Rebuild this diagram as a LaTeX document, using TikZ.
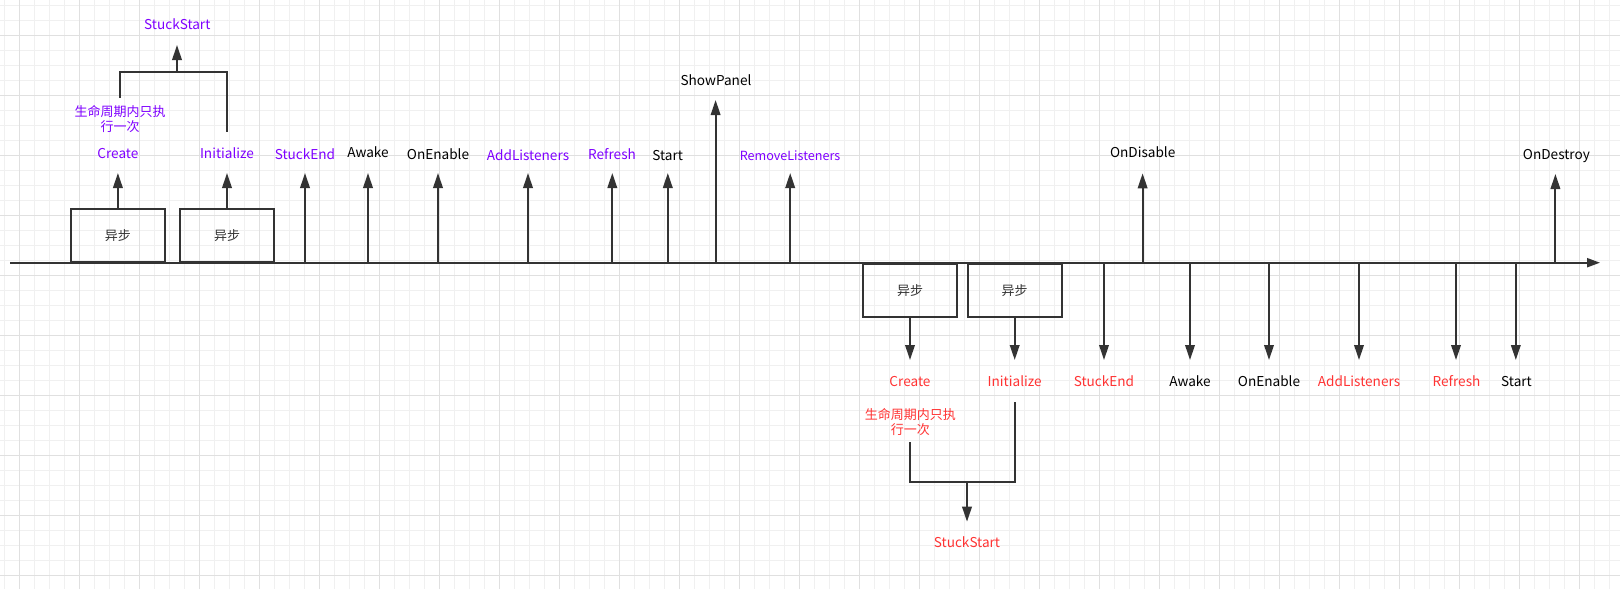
\documentclass[tikz,border=0pt]{standalone}
\usepackage{fontspec}
\setmainfont{Noto Sans CJK SC}
\usetikzlibrary{arrows.meta}
\definecolor{lineC}{HTML}{333333}
\definecolor{purp}{HTML}{7F00FF}
\definecolor{redC}{HTML}{FF3333}
\definecolor{gridminor}{HTML}{F0F0F0}
\definecolor{gridmajor}{HTML}{E0E0E0}
\begin{document}
\begin{tikzpicture}[x=1pt,y=-1pt,
  lbl/.style={font=\fontsize{13.6}{16}\selectfont, inner sep=0pt, anchor=base},
  cjk/.style={font=\fontsize{13}{16}\selectfont, inner sep=0pt, anchor=base},
  pu/.style={text=purp}, rd/.style={text=redC}, bk/.style={text=black},
  conn/.style={draw=lineC, line width=2pt},
  arr/.style={conn, -{Triangle[length=15pt,width=9.5pt]}},
  abox/.style={draw=lineC, line width=2pt, minimum width=94pt, minimum height=53pt, inner sep=0pt, font=\fontsize{13}{16}\selectfont, text=lineC}]
\useasboundingbox (0,0) rectangle (1620,589);
\fill[white] (0,0) rectangle (1620,589);
% grid
\foreach \i in {0,...,107} \draw[gridminor, line width=1pt] ({4.3+15*\i},0) -- ({4.3+15*\i},589);
\foreach \j in {0,...,39} \draw[gridminor, line width=1pt] (0,{5+15*\j}) -- (1620,{5+15*\j});
\foreach \i in {0,...,26} \draw[gridmajor, line width=1pt] ({19.3+60*\i},0) -- ({19.3+60*\i},589);
\foreach \j in {0,...,9} \draw[gridmajor, line width=1pt] (0,{35+60*\j}) -- (1620,{35+60*\j});

% timeline
\coordinate (tl0) at (10,262.7);
\coordinate (tl1) at (1600,262.7);
\draw[conn, -{Triangle[length=13pt,width=9pt]}] (tl0) -- (tl1);

% boxes
\node[abox, anchor=south] (b1) at (117.9,262.7) {异步};
\node[abox, anchor=south] (b2) at (227.0,262.7) {异步};
\node[abox, anchor=north] (b3) at (910.0,262.7) {异步};
\node[abox, anchor=north] (b4) at (1014.7,262.7) {异步};

% top labels
\node[lbl,pu] (lSSt) at (177.3,29.3) {StuckStart};
\node[cjk,pu] (lCJKt1) at (120.2,116.3) {生命周期内只执};
\node[cjk,pu] (lCJKt2) at (120.2,131.8) {行一次};
\node[lbl,pu] (lCrt) at (117.9,158) {Create};
\node[lbl,pu] (lInt) at (227.0,158) {Initialize};
\node[lbl,pu] (lSEt) at (305,159.3) {StuckEnd};
\node[lbl,bk] (lAwt) at (368,157.3) {Awake};
\node[lbl,bk] (lOEt) at (438,159.3) {OnEnable};
\node[lbl,pu] (lALt) at (528,160.7) {AddListeners};
\node[lbl,pu] (lRft) at (612,159.3) {Refresh};
\node[lbl,bk] (lStt) at (667.6,160.7) {Start};
\node[lbl,bk] (lSP) at (716,85) {ShowPanel};
\node[lbl,pu,font=\fontsize{12.6}{16}\selectfont] (lRL) at (790,160) {RemoveListeners};
\node[lbl,bk] (lOD) at (1142.7,157.7) {OnDisable};
\node[lbl,bk] (lODy) at (1556.4,159.3) {OnDestroy};

% bottom labels
\node[lbl,rd] (lCrb) at (910,386.7) {Create};
\node[lbl,rd] (lInb) at (1014.7,386.7) {Initialize};
\node[lbl,rd] (lSEb) at (1104,386.7) {StuckEnd};
\node[lbl,bk] (lAwb) at (1190,386.7) {Awake};
\node[lbl,bk] (lOEb) at (1269,386.7) {OnEnable};
\node[lbl,rd] (lALb) at (1359,386.7) {AddListeners};
\node[lbl,rd] (lRfb) at (1456.5,386.7) {Refresh};
\node[lbl,bk] (lStb) at (1516.5,386.7) {Start};
\node[cjk,rd] (lCJKb1) at (910.3,419) {生命周期内只执};
\node[cjk,rd] (lCJKb2) at (910.3,434.6) {行一次};
\node[lbl,rd] (lSSb) at (967,547.3) {StuckStart};

% top arrow tips
\coordinate (tCr) at (117.9,173);
\coordinate (tIn) at (227.0,173);
\coordinate (tSE) at (305,173);
\coordinate (tAw) at (368,173);
\coordinate (tOE) at (438,173);
\coordinate (tAL) at (528,173);
\coordinate (tRf) at (612.3,173);
\coordinate (tSt) at (667.8,173);
\coordinate (tSP) at (715.6,100);
\coordinate (tRL) at (790.2,173);
\coordinate (tOD) at (1142.6,173.3);
\coordinate (tODy) at (1555.4,174);

\draw[arr] (b1.north) -- (tCr);
\draw[arr] (b2.north) -- (tIn);
\foreach \t in {tSE,tAw,tOE,tAL,tRf,tSt,tSP,tRL,tOD,tODy}
  \draw[arr] (tl0 -| \t) -- (\t);

% bottom arrow tips
\coordinate (bCr) at (910,360);
\coordinate (bIn) at (1014.7,360);
\coordinate (bSE) at (1104,360);
\coordinate (bAw) at (1190,360);
\coordinate (bOE) at (1269,360);
\coordinate (bAL) at (1359,360);
\coordinate (bRf) at (1456,360);
\coordinate (bSt) at (1515.8,360);

\draw[arr] (b3.south) -- (bCr);
\draw[arr] (b4.south) -- (bIn);
\foreach \t in {bSE,bAw,bOE,bAL,bRf,bSt}
  \draw[arr] (tl0 -| \t) -- (\t);

% top bracket
\coordinate (bkL) at (119.7,97.7);
\coordinate (bkLc) at (119.7,71.7);
\coordinate (bkRc) at (227.3,71.7);
\coordinate (bkR) at (227.3,131.7);
\coordinate (bkM) at (177,71.7);
\coordinate (tSS) at (177,45);
\draw[conn] (bkL) -- (bkLc) -- (bkRc) -- (bkR);
\draw[arr] (bkM) -- (tSS);

% bottom bracket
\coordinate (bbL) at (910,442.3);
\coordinate (bbLc) at (910,481.7);
\coordinate (bbRc) at (1014.7,481.7);
\coordinate (bbR) at (1014.7,402.3);
\coordinate (bbM) at (967,481.7);
\coordinate (bSS) at (967,521.7);
\draw[conn] (bbL) -- (bbLc) -- (bbRc) -- (bbR);
\draw[arr] (bbM) -- (bSS);
\end{tikzpicture}
\end{document}
